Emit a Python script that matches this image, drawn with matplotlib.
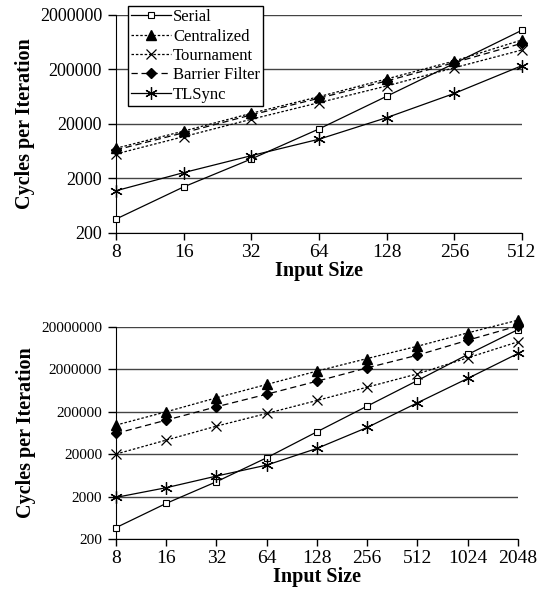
import numpy as np
import matplotlib.pyplot as plt

plt.rcParams['font.family'] = ['Liberation Serif', 'DejaVu Serif']

# top chart
sizes_a = [8, 16, 32, 64, 128, 256, 512]
serial_a = [360, 1400, 4560, 16200, 64400, 258000, 1050000]
central_a = [7160, 14800, 31400, 63400, 134000, 286000, 697000]
tourn_a = [5630, 11700, 24400, 49200, 99500, 215000, 456000]
barrier_a = [6670, 13800, 29300, 59300, 123000, 267000, 605000]
tlsync_a = [1190, 2560, 5240, 10500, 26100, 72700, 235000]
yticks_a = [200, 2000, 20000, 200000, 2000000]

# bottom chart
sizes_b = [8, 16, 32, 64, 128, 256, 512, 1024, 2048]
serial_b = [370, 1380, 4470, 16400, 67000, 270000, 1080000, 4430000, 17100000]
central_b = [96200, 198000, 423000, 873000, 1800000, 3560000, 6940000, 14300000, 28500000]
tourn_b = [20000, 42700, 91000, 181000, 366000, 754000, 1550000, 3700000, 8800000]
barrier_b = [61300, 126000, 260000, 514000, 1040000, 2150000, 4270000, 9600000, 20900000]
tlsync_b = [1910, 3230, 6070, 11000, 27200, 84700, 323000, 1210000, 4680000]
yticks_b = [200, 2000, 20000, 200000, 2000000, 20000000]

names = ['Serial', 'Centralized', 'Tournament', 'Barrier Filter', 'TLSync']
styles = [
    dict(ls='-', marker='s', mfc='white', ms=5, mew=0.8),
    dict(ls=(0, (2, 1.5)), marker='^', mfc='black', ms=7.5),
    dict(ls=(0, (2, 1.5)), marker='x', mfc='none', ms=7, mew=0.9),
    dict(ls=(0, (5, 3)), marker='D', mfc='black', ms=5.5),
    dict(ls='-', marker=(6, 2, 0), mfc='none', ms=9, mew=0.9),
]

fig = plt.figure(figsize=(5.43, 5.91), dpi=100)
ax1 = fig.add_axes([0.2136, 0.6058, 0.7477, 0.3689])
ax2 = fig.add_axes([0.2136, 0.088, 0.7403, 0.3592])


def draw(ax, sizes, series, yticks, yfs, xfs):
    xs = np.arange(len(sizes))
    for vals, nm, st in zip(series, names, styles):
        ax.plot(xs, vals, color='black', lw=0.9, label=nm, clip_on=False, zorder=3, **st)
    ax.set_yscale('log')
    ax.set_ylim(yticks[0], yticks[-1])
    ax.set_xlim(0, len(sizes) - 1)
    ax.set_yticks(yticks)
    ax.set_yticklabels([str(v) for v in yticks], fontsize=yfs)
    ax.minorticks_off()
    ax.set_xticks(xs)
    ax.set_xticklabels([str(s) for s in sizes], fontsize=xfs)
    ax.grid(axis='y', color='#444444', lw=1.0)
    ax.set_axisbelow(True)
    for s in ['top', 'right']:
        ax.spines[s].set_visible(False)
    ax.tick_params(axis='both', direction='out', length=5, width=1, pad=3)
    ax.tick_params(axis='y', length=6, pad=4)
    ax.set_xlabel('Input Size', fontsize=14.5, fontweight='bold', labelpad=0)
    ax.set_ylabel('Cycles per Iteration', fontsize=14.5, fontweight='bold')
    ax.yaxis.set_label_coords(-0.2, 0.5)


draw(ax1, sizes_a, [serial_a, central_a, tourn_a, barrier_a, tlsync_a], yticks_a, 13, 14)
draw(ax2, sizes_b, [serial_b, central_b, tourn_b, barrier_b, tlsync_b], yticks_b, 11, 14)

leg = ax1.legend(loc='upper left', bbox_to_anchor=(128 / 543, 1 - 6 / 591),
                 bbox_transform=fig.transFigure, fontsize=12, frameon=True,
                 fancybox=False, edgecolor='black', framealpha=1,
                 handlelength=2.4, handletextpad=0.1, labelspacing=0.2,
                 borderpad=0.2, borderaxespad=0)
leg.get_frame().set_linewidth(1.0)
leg.set_zorder(5)

fig.savefig('out.png', dpi=100)
